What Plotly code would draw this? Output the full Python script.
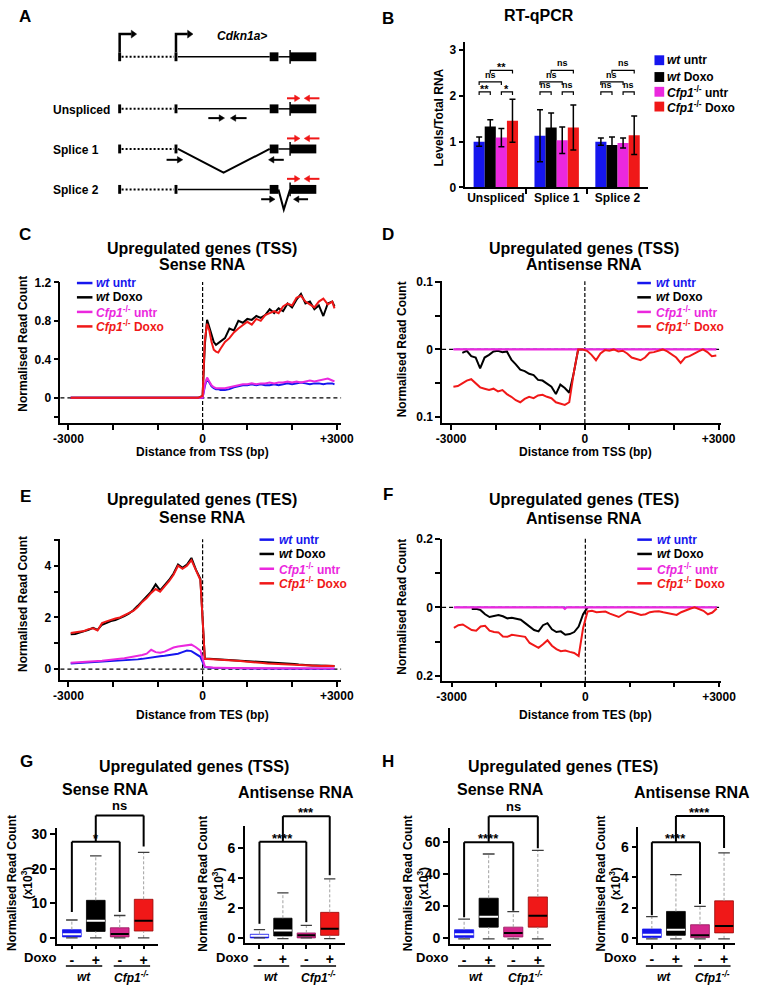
import plotly.graph_objects as go

W, H = 763, 989
FONT = "Liberation Sans, Arial, Helvetica, sans-serif"
BLUE = "rgb(22,22,238)"
MAG = "rgb(235,40,222)"
RED = "rgb(240,24,24)"
BLK = "rgb(0,0,0)"
BOXMAG = "rgb(212,40,140)"

# ================= DATA =================
# ---- Panel B : RT-qPCR ----
qpcr_groups = ["Unspliced", "Splice 1", "Splice 2"]
qpcr_wt_untr = [1.00, 1.13, 1.00]
qpcr_wt_untr_err = [0.10, 0.57, 0.08]
qpcr_wt_doxo = [1.33, 1.31, 0.93]
qpcr_wt_doxo_err = [0.15, 0.32, 0.17]
qpcr_cfp_untr = [1.09, 1.03, 0.97]
qpcr_cfp_untr_err = [0.20, 0.29, 0.11]
qpcr_cfp_doxo = [1.46, 1.31, 1.14]
qpcr_cfp_doxo_err = [0.47, 0.49, 0.42]
# significance: (wt untr vs wt Doxo, Cfp1 untr vs Cfp1 Doxo, wt untr vs Cfp1 untr, wt Doxo vs Cfp1 Doxo)
qpcr_sig = [["**", "*", "ns", "**"], ["ns", "ns", "ns", "ns"], ["ns", "ns", "ns", "ns"]]

# ---- Panel C : TSS sense ----
C_x = [-2950, -100, 0, 50, 100, 150, 200, 250, 300, 350, 400, 500, 600, 700, 800, 900, 1000,
       1100, 1200, 1300, 1400, 1500, 1600, 1700, 1800, 1900, 2000, 2100, 2200, 2300, 2400,
       2500, 2600, 2700, 2800, 2900, 2950]
C_wt_untr = [0, 0, 0.0, 0.12, 0.20, 0.16, 0.12, 0.10, 0.09, 0.09, 0.08, 0.08, 0.09, 0.11, 0.12,
             0.13, 0.13, 0.14, 0.13, 0.14, 0.13, 0.13, 0.14, 0.13, 0.14, 0.15, 0.14, 0.15, 0.16,
             0.15, 0.14, 0.15, 0.15, 0.14, 0.15, 0.15, 0.14]
C_wt_doxo = [0, 0, 0.02, 0.55, 0.81, 0.74, 0.65, 0.58, 0.55, 0.57, 0.59, 0.62, 0.72, 0.70, 0.80,
             0.78, 0.82, 0.81, 0.85, 0.83, 0.86, 0.92, 0.88, 0.93, 0.90, 0.98, 0.94, 1.02, 1.08,
             0.98, 1.00, 0.92, 0.96, 0.85, 0.98, 1.00, 0.95]
C_cfp_untr = [0, 0, 0.0, 0.14, 0.21, 0.17, 0.13, 0.11, 0.10, 0.10, 0.10, 0.10, 0.11, 0.12, 0.13,
              0.14, 0.14, 0.15, 0.14, 0.15, 0.15, 0.16, 0.15, 0.16, 0.16, 0.17, 0.16, 0.17, 0.16,
              0.17, 0.18, 0.17, 0.18, 0.19, 0.20, 0.18, 0.17]
C_cfp_doxo = [0, 0, 0.02, 0.60, 0.77, 0.70, 0.58, 0.50, 0.48, 0.47, 0.51, 0.58, 0.62, 0.68, 0.72,
              0.76, 0.79, 0.76, 0.82, 0.80, 0.86, 0.88, 0.90, 0.88, 0.95, 0.98, 0.96, 1.04, 1.06,
              1.00, 0.97, 0.94, 1.00, 1.03, 0.97, 1.00, 0.93]

# ---- common 100-bp grid for D, E, F ----
GRID = [-2950, -2850, -2750, -2650, -2550, -2450, -2350, -2250, -2150, -2050,
        -1950, -1850, -1750, -1650, -1550, -1450, -1350, -1250, -1150, -1050,
        -950, -850, -750, -650, -550, -450, -350, -250, -150, -50,
        50, 150, 250, 350, 450, 550, 650, 750, 850, 950,
        1050, 1150, 1250, 1350, 1450, 1550, 1650, 1750, 1850, 1950,
        2050, 2150, 2250, 2350, 2450, 2550, 2650, 2750, 2850, 2950]

# ---- Panel D : TSS antisense (plotted negative) ----
D_flat_x = [-2950, 2950]
D_wt_untr = [0.0, 0.0]
D_cfp_untr = [0.0, 0.0]
D_wt_doxo = [None, None, -0.005, -0.002, -0.010, -0.012, -0.028, -0.012, -0.008, -0.003,
             -0.002, -0.004, -0.003, -0.015, -0.022, -0.030, -0.032, -0.036, -0.038, -0.045,
             -0.046, -0.050, -0.055, -0.066, -0.052, -0.057, -0.064, -0.035, 0.0, 0.0]
D_cfp_doxo = [-0.055, -0.054, -0.050, -0.046, -0.044, -0.050, -0.056, -0.058, -0.060, -0.058,
              -0.062, -0.060, -0.066, -0.070, -0.075, -0.078, -0.073, -0.070, -0.072, -0.068,
              -0.067, -0.070, -0.072, -0.078, -0.080, -0.082, -0.078, -0.035, 0.0, 0.0,
              -0.002, -0.008, -0.016, -0.006, -0.001, -0.002, 0.0, -0.003, -0.002, -0.006,
              -0.012, -0.014, -0.016, -0.012, -0.005, -0.004, -0.002, 0.0, -0.003, -0.008,
              -0.012, -0.020, -0.012, -0.010, -0.006, -0.003, 0.0, -0.004, -0.010, -0.009]

# ---- Panel E : TES sense ----
E_wt_untr = [0.22, 0.23, 0.24, 0.24, 0.25, 0.26, 0.27, 0.28, 0.29, 0.30,
             0.31, 0.33, 0.34, 0.36, 0.37, 0.38, 0.40, 0.43, 0.46, 0.48,
             0.50, 0.52, 0.55, 0.58, 0.60, 0.66, 0.72, 0.70, 0.60, 0.48,
             0.08, 0.06, 0.05, 0.05, 0.04, 0.04, 0.04, 0.04, 0.03, 0.03,
             0.03, 0.03, 0.03, 0.03, 0.03, 0.02, 0.02, 0.02, 0.02, 0.02,
             0.02, 0.02, 0.02, 0.02, 0.02, 0.02, 0.02, 0.02, 0.02, 0.02]
E_wt_doxo = [1.35, 1.36, 1.42, 1.46, 1.52, 1.60, 1.52, 1.72, 1.80, 1.86,
             1.90, 1.96, 2.05, 2.15, 2.28, 2.45, 2.62, 2.80, 3.00, 3.28,
             3.05, 3.25, 3.45, 3.70, 4.05, 3.92, 4.05, 4.30, 3.85, 3.50,
             0.40, 0.40, 0.39, 0.38, 0.38, 0.37, 0.36, 0.35, 0.34, 0.32,
             0.31, 0.30, 0.29, 0.28, 0.27, 0.26, 0.25, 0.24, 0.22, 0.21,
             0.20, 0.18, 0.16, 0.15, 0.14, 0.14, 0.13, 0.13, 0.12, 0.12]
E_cfp_untr = [0.25, 0.26, 0.26, 0.27, 0.28, 0.30, 0.31, 0.33, 0.35, 0.36,
              0.38, 0.40, 0.42, 0.45, 0.48, 0.52, 0.55, 0.60, 0.75, 0.66,
              0.64, 0.68, 0.76, 0.84, 0.88, 0.90, 0.92, 0.95, 0.85, 0.72,
              0.10, 0.07, 0.06, 0.06, 0.05, 0.05, 0.05, 0.05, 0.04, 0.04,
              0.04, 0.04, 0.04, 0.04, 0.04, 0.03, 0.03, 0.03, 0.03, 0.03,
              0.03, 0.03, 0.03, 0.03, 0.03, 0.03, 0.03, 0.03, 0.03, 0.03]
E_cfp_doxo = [1.40, 1.42, 1.45, 1.48, 1.55, 1.58, 1.50, 1.78, 1.85, 1.92,
              1.96, 2.00, 2.08, 2.15, 2.25, 2.40, 2.60, 2.75, 2.95, 3.10,
              3.00, 3.20, 3.40, 3.65, 4.00, 3.88, 4.00, 4.22, 3.80, 3.45,
              0.40, 0.39, 0.39, 0.38, 0.38, 0.37, 0.36, 0.34, 0.32, 0.30,
              0.29, 0.27, 0.26, 0.24, 0.22, 0.21, 0.20, 0.19, 0.18, 0.17,
              0.16, 0.15, 0.15, 0.14, 0.13, 0.13, 0.12, 0.13, 0.12, 0.12]

# ---- Panel F : TES antisense (plotted negative) ----
F_flat_x = [-2950, -500, -460, -420, 2950]
F_wt_untr = [0.0, 0.0, 0.0, 0.0, 0.0]
F_cfp_untr = [0.0, 0.0, -0.004, 0.0, 0.0]
F_wt_doxo = [None, None, None, None, -0.005, -0.004, -0.008, -0.020, -0.028, -0.024,
             -0.022, -0.026, -0.032, -0.030, -0.034, -0.036, -0.046, -0.055, -0.066, -0.070,
             -0.052, -0.046, -0.064, -0.072, -0.070, -0.080, -0.078, -0.072, -0.056, -0.020,
             0.0]
F_cfp_doxo = [-0.060, -0.052, -0.050, -0.058, -0.066, -0.068, -0.056, -0.054, -0.068, -0.072,
              -0.073, -0.085, -0.086, -0.080, -0.082, -0.084, -0.086, -0.104, -0.112, -0.118,
              -0.108, -0.096, -0.112, -0.122, -0.128, -0.126, -0.130, -0.133, -0.142, -0.060,
              -0.012, -0.010, -0.014, -0.014, -0.012, -0.018, -0.022, -0.028, -0.020, -0.012,
              -0.014, -0.018, -0.022, -0.020, -0.014, -0.012, -0.011, -0.014, -0.016, -0.020,
              -0.022, -0.014, -0.008, -0.004, 0.000, -0.004, -0.010, -0.020, -0.015, -0.003]

# ---- Panels G/H : box summaries (x10^3) ; order wt -, wt +, Cfp1 -, Cfp1 + ----
box_doxo = ["-", "+", "-", "+"]
box_genotypes = ["wt", "Cfp1-/-"]
G_sense_low = [0.0, 0.0, 0.0, 0.0]
G_sense_q1 = [0.3, 1.9, 0.3, 2.0]
G_sense_med = [1.05, 5.0, 1.15, 5.0]
G_sense_q3 = [2.4, 10.9, 2.95, 11.2]
G_sense_high = [5.2, 23.8, 6.5, 24.8]
G_anti_low = [0.0, -0.05, 0.0, -0.05]
G_anti_q1 = [0.0, 0.13, 0.0, 0.17]
G_anti_med = [0.15, 0.50, 0.17, 0.61]
G_anti_q3 = [0.24, 1.31, 0.33, 1.70]
G_anti_high = [0.55, 3.0, 0.83, 3.93]
H_sense_low = [-0.6, -0.6, -0.6, -0.6]
H_sense_q1 = [0.2, 6.75, 0.6, 6.75]
H_sense_med = [2.25, 13.3, 3.1, 13.9]
H_sense_q3 = [5.1, 24.8, 6.75, 25.6]
H_sense_high = [11.7, 52.4, 16.4, 54.7]
H_anti_low = [-0.06, -0.06, -0.06, -0.06]
H_anti_q1 = [0.02, 0.17, 0.02, 0.33]
H_anti_med = [0.20, 0.54, 0.17, 0.78]
H_anti_q3 = [0.585, 1.75, 0.87, 2.45]
H_anti_high = [1.41, 4.18, 2.08, 5.63]
G_sense_sig = ["*", "ns"]
G_anti_sig = ["****", "***"]
H_sense_sig = ["****", "ns"]
H_anti_sig = ["****", "****"]

# ================= HELPERS =================
def PX(x): return x / W
def PY(y): return 1 - y / H

shapes, annots = [], []

def ann(s, x, y, xref="paper", yref="paper", size=12, color="black", xa="center", ya="middle",
        angle=0, yshift=0):
    annots.append(dict(text=s, x=x, y=y, xref=xref, yref=yref, showarrow=False, xanchor=xa,
                       yanchor=ya, textangle=angle, borderpad=0, yshift=yshift,
                       font=dict(family=FONT, size=size, color=color, weight="bold")))

def pann(s, x, y, **kw):
    ann(s, PX(x), PY(y), **kw)

def pline(x0, y0, x1, y1, color="black", width=1.5, dash="solid"):
    shapes.append(dict(type="line", xref="paper", yref="paper", x0=PX(x0), y0=PY(y0),
                       x1=PX(x1), y1=PY(y1), line=dict(color=color, width=width, dash=dash)))

def ppath(pts, color="black", width=1.5, fill=None, close=False):
    d = "M " + " L ".join(f"{PX(x):.5f},{PY(y):.5f}" for x, y in pts) + (" Z" if close else "")
    shapes.append(dict(type="path", xref="paper", yref="paper", path=d,
                       line=dict(color=color, width=width),
                       fillcolor=fill if fill else "rgba(0,0,0,0)"))

def prect(x0, y0, x1, y1, color="black"):
    shapes.append(dict(type="rect", xref="paper", yref="paper", x0=PX(x0), y0=PY(y1),
                       x1=PX(x1), y1=PY(y0), fillcolor=color, line=dict(width=0)))

def harrow(xt, xh, y, color="black"):
    d = 1 if xh > xt else -1
    pline(xt, y, xh - d * 4, y, color=color, width=2)
    ppath([(xh - d * 5.5, y - 3.3), (xh, y), (xh - d * 5.5, y + 3.3)], color=color, width=0.5,
          fill=color, close=True)

def ref(n, l):
    return l if n == 1 else f"{l}{n}"

# panel geometry (pixel boxes) and ranges
PAN = {
    1: dict(x=(472, 660), y=(36, 183), xr=[-0.5, 2.5], yr=[0, 3.17]),
    2: dict(x=(55, 344), y=(279, 422), xr=[-3180, 3097], yr=[-0.262, 1.203]),
    3: dict(x=(448, 735), y=(278.3, 422), xr=[-3204, 3051], yr=[-0.1087, 0.1005]),
    4: dict(x=(55, 344), y=(540, 683), xr=[-3180, 3097], yr=[-0.43, 5.02]),
    5: dict(x=(448, 735), y=(539.5, 683.3), xr=[-3215, 3040], yr=[-0.214, 0.2003]),
    6: dict(x=(51, 155), y=(832.7, 950), xr=[-0.64, 3.58], yr=[-1.63, 31.9]),
    7: dict(x=(245, 348), y=(830.7, 949.3), xr=[-0.62, 3.65], yr=[-0.33, 7.45]),
    8: dict(x=(456, 560), y=(832.7, 950), xr=[-0.58, 3.53], yr=[-3.5, 68.7]),
    9: dict(x=(650, 750), y=(831.7, 949.3), xr=[-0.565, 3.47], yr=[-0.33, 7.34]),
}

def vpaper(n, v):
    p = PAN[n]
    b, t = PY(p["y"][1]), PY(p["y"][0])
    r0, r1 = p["yr"]
    return b + (v - r0) / (r1 - r0) * (t - b)

layout = dict(width=W, height=H, margin=dict(l=0, r=0, t=0, b=0, pad=0),
              paper_bgcolor="white", plot_bgcolor="white", showlegend=False,
              barmode="group", bargap=0.27, bargroupgap=0.0,
              font=dict(family=FONT, color="black"))

AX = dict(showline=True, linecolor="black", linewidth=1.5, ticks="outside", ticklen=5,
          tickwidth=1.5, tickcolor="black", showgrid=False, zeroline=False, fixedrange=True,
          tickfont=dict(family=FONT, size=12, color="black", weight="bold"))

def minor(vals, ln=5):
    return dict(tickvals=vals, ticks="outside", ticklen=ln, tickwidth=1.5, tickcolor="black",
                showgrid=False)

for n, p in PAN.items():
    xa = dict(AX, domain=[PX(p["x"][0]), PX(p["x"][1])], range=p["xr"], anchor=ref(n, "y"))
    ya = dict(AX, domain=[PY(p["y"][1]), PY(p["y"][0])], range=p["yr"], anchor=ref(n, "x"))
    layout["xaxis" if n == 1 else f"xaxis{n}"] = xa
    layout["yaxis" if n == 1 else f"yaxis{n}"] = ya

# ---- tick setups ----
layout["xaxis"].update(tickvals=list(range(len(qpcr_groups))), ticktext=qpcr_groups, ticks="",
                       ticklabelstandoff=-2, minor=minor([0.5, 1.5]))
layout["yaxis"].update(tickvals=[0, 1, 2, 3])
for n in (2, 3, 4, 5):
    layout[f"xaxis{n}"].update(tickvals=[-3000, 0, 3000], ticktext=["-3000", "0", "+3000"],
                               ticklabelstandoff=-1,
                               minor=minor([-2000, -1000, 1000, 2000]))
layout["yaxis2"].update(tickvals=[0, 0.4, 0.8, 1.2], ticktext=["0", "0.4", "0.8", "1.2"],
                        minor=minor([-0.2]))
layout["yaxis3"].update(tickvals=[-0.1, 0, 0.1], ticktext=["0.1", "0", "0.1"],
                        minor=minor([-0.05, 0.05]))
layout["yaxis4"].update(tickvals=[0, 2, 4], ticktext=["0", "2", "4"], minor=minor([1, 3, 5]))
layout["yaxis5"].update(tickvals=[-0.2, 0, 0.2], ticktext=["0.2", "0", "0.2"],
                        minor=minor([-0.1, 0.1]))
for n, tv in ((6, [0, 10, 20, 30]), (7, [0, 2, 4, 6]), (8, [0, 20, 40, 60]), (9, [0, 2, 4, 6])):
    layout[f"yaxis{n}"].update(tickvals=tv, tickfont=dict(family=FONT, size=14, color="black", weight="bold"))
    layout[f"xaxis{n}"].update(tickvals=list(range(len(box_doxo))), ticktext=box_doxo, ticklen=4,
                               ticklabelstandoff=-1,
                               tickfont=dict(family=FONT, size=14, color="black", weight="bold"))

fig = go.Figure()

# ================= PANEL A (schematic) =================
def gene_row(c, splice=None):
    prect(114.5, c - 4.5, 117.5, c + 4.5)
    pline(118, c, 172, c, width=2, dash="2px,2px")
    prect(172.5, c - 4.5, 175.5, c + 4.5)
    if splice == 1:
        ppath([(176, c), (223, c + 24), (270.5, c)], width=2)
    else:
        pline(176, c, 270.5, c, width=1.5)
    prect(270.5, c - 4.5, 279.5, c + 4.5)
    if splice == 2:
        ppath([(279.5, c), (285, c + 20.5), (291.5, c)], width=2)
    else:
        pline(279.5, c, 291.5, c, width=1.5)
    prect(291.5, c - 4.5, 318.5, c + 4.5)
    pline(291.5, c - 7, 291.5, c + 7, width=1.5)

gene_row(50.5)
for x0 in (116, 174):
    ppath([(x0, 46), (x0, 27.5), (x0 + 12, 27.5)], width=2.5)
    ppath([(x0 + 12, 23.5), (x0 + 17.5, 27.5), (x0 + 12, 31.5)], width=0.5, fill="black", close=True)
pann("<i>Cdkn1a></i>", 215, 29, size=12, xa="left")

rows = [("Unspliced", 103.3, None), ("Splice 1", 144, 1), ("Splice 2", 185, 2)]
for lab, c, sp in rows:
    gene_row(c, sp)
    pann(lab, 46.5, c + 1, size=12, xa="left")
    harrow(288.3, 301.7, c - 10.7, RED)
    harrow(321.7, 306, c - 10.7, RED)
harrow(207.3, 224, 112.7)
harrow(246.7, 230, 112.7)
harrow(164.3, 181, 155)
harrow(285, 269.3, 155)
harrow(261.7, 276, 195)
harrow(310, 295, 195)

# ================= PANEL B =================
bx = list(range(len(qpcr_groups)))
for vals, errs, col in ((qpcr_wt_untr, qpcr_wt_untr_err, BLUE), (qpcr_wt_doxo, qpcr_wt_doxo_err, BLK),
                        (qpcr_cfp_untr, qpcr_cfp_untr_err, MAG), (qpcr_cfp_doxo, qpcr_cfp_doxo_err, RED)):
    fig.add_trace(go.Bar(x=bx, y=vals, marker=dict(color=col, line=dict(width=0)),
                         error_y=dict(type="data", array=errs, color="black", thickness=1.5, width=3),
                         xaxis="x", yaxis="y", hoverinfo="skip"))
off = [-0.274, -0.091, 0.091, 0.274]
pairs = [((0, 1), 2.09), ((2, 3), 2.09), ((0, 2), 2.31), ((1, 3), 2.56)]
for g in bx:
    for k, ((a, b), lev) in enumerate(pairs):
        xa_, xb_ = g + off[a], g + off[b]
        shapes.append(dict(type="path", xref="x", yref="y",
                           path=f"M {xa_},{lev - 0.07} L {xa_},{lev} L {xb_},{lev} L {xb_},{lev - 0.07}",
                           line=dict(color="black", width=1.2)))
        lab = qpcr_sig[g][k]
        star = "*" in lab
        ann(lab, (xa_ + xb_) / 2, lev, xref="x", yref="y", size=11 if star else 9, ya="bottom",
            yshift=-4 if star else 1)
pann("RT-qPCR", 548, 9, size=16)
pann("Levels/Total RNA", 445, 112, size=12, angle=-90)
for (lab, col), yy in zip((("<i>wt</i> untr", BLUE), ("<i>wt</i> Doxo", BLK),
                           ("<i>Cfp1</i><sup>-/-</sup> untr", MAG), ("<i>Cfp1</i><sup>-/-</sup> Doxo", RED)),
                          (54, 71, 86, 101)):
    prect(666.7, yy - 5, 676.7, yy + 5, col)
    pann(lab, 678.5, yy, size=12, xa="left")

# ================= LINE PANELS C-F =================
def lt(n, x, y, col, w=2):
    fig.add_trace(go.Scatter(x=x, y=y, mode="lines", line=dict(color=col, width=w),
                             xaxis=ref(n, "x"), yaxis=ref(n, "y"), hoverinfo="skip"))

lt(2, C_x, C_wt_untr, BLUE); lt(2, C_x, C_wt_doxo, BLK); lt(2, C_x, C_cfp_untr, MAG); lt(2, C_x, C_cfp_doxo, RED)
lt(3, D_flat_x, D_wt_untr, BLUE, 1.2); lt(3, GRID[:len(D_wt_doxo)], D_wt_doxo, BLK)
lt(3, D_flat_x, D_cfp_untr, MAG, 2.2); lt(3, GRID, D_cfp_doxo, RED)
lt(4, GRID, E_wt_untr, BLUE); lt(4, GRID, E_wt_doxo, BLK); lt(4, GRID, E_cfp_untr, MAG); lt(4, GRID, E_cfp_doxo, RED)
lt(5, F_flat_x, F_wt_untr, BLUE, 1.2); lt(5, GRID[:len(F_wt_doxo)], F_wt_doxo, BLK)
lt(5, F_flat_x, F_cfp_untr, MAG, 2.2); lt(5, GRID, F_cfp_doxo, RED)

for n in (2, 3, 4, 5):
    shapes.append(dict(type="line", xref=f"x{n} domain", x0=0, x1=1, yref=f"y{n}", y0=0, y1=0,
                       line=dict(color="black", width=1.2, dash="4px,3px"), layer="below"))
    shapes.append(dict(type="line", xref=f"x{n}", x0=0, x1=0, yref=f"y{n} domain", y0=0, y1=1,
                       line=dict(color="black", width=1.2, dash="4px,2px"), layer="below"))

LEG = (("<i>wt</i> untr", BLUE), ("<i>wt</i> Doxo", BLK),
       ("<i>Cfp1</i><sup>-/-</sup> untr", MAG), ("<i>Cfp1</i><sup>-/-</sup> Doxo", RED))

def line_legend(x0, x1, xt, ys):
    for (lab, col), yy in zip(LEG, ys):
        pline(x0, yy, x1, yy, color=col, width=2.5)
        pann(lab, xt, yy, size=12, color=col, xa="left")

line_legend(72, 88, 91, (280, 294.5, 309.3, 324))
line_legend(649, 663, 667, (280, 294.5, 309.3, 324))
line_legend(260, 275, 279, (540.3, 554.8, 569.8, 584.6))
line_legend(649, 664, 668, (540.3, 554.8, 569.8, 584.6))

for cx, t1, t2, y1, y2 in ((201, "Upregulated genes (TSS)", "Sense RNA", 245, 261),
                           (594, "Upregulated genes (TSS)", "Antisense RNA", 245, 261),
                           (201, "Upregulated genes (TES)", "Sense RNA", 500, 518),
                           (594, "Upregulated genes (TES)", "Antisense RNA", 500, 519)):
    pann(t1, cx, y1, size=16)
    pann(t2, cx, y2, size=16)
pann("Distance from TSS (bp)", 201, 451.5, size=12)
pann("Distance from TSS (bp)", 596, 451.5, size=12)
pann("Distance from TES (bp)", 201, 718, size=12)
pann("Distance from TES (bp)", 596, 718, size=12)
pann("Normalised Read Count", 17, 342, size=12, angle=-90)
pann("Normalised Read Count", 407, 347, size=12, angle=-90)
pann("Normalised Read Count", 17, 606, size=12, angle=-90)
pann("Normalised Read Count", 407, 608, size=12, angle=-90)

# ================= BOX PANELS G/H =================
BOXCOL = [BLUE, BLK, BOXMAG, RED]
MEDCOL = ["white", "white", "black", "black"]
EDGECOL = [BLUE, BLK, "rgb(150,20,90)", "rgb(150,10,10)"]

def boxes(n, low, q1, med, q3, high):
    xs = list(range(len(box_doxo)))
    xr_, yr_ = ref(n, "x"), ref(n, "y")
    fig.add_trace(go.Bar(x=xs, y=[b - a for a, b in zip(q1, q3)], base=q1, width=0.78,
                         marker=dict(color=BOXCOL, line=dict(color=EDGECOL, width=0.8)),
                         xaxis=xr_, yaxis=yr_, hoverinfo="skip"))
    for i in xs:
        fig.add_trace(go.Scatter(x=[i, i, None, i, i], y=[q3[i], high[i], None, low[i], q1[i]],
                                 mode="lines", line=dict(color="rgb(160,160,160)", width=1, dash="3px,2px"),
                                 xaxis=xr_, yaxis=yr_, hoverinfo="skip"))
        fig.add_trace(go.Scatter(x=[i - 0.24, i + 0.24, None, i - 0.24, i + 0.24],
                                 y=[high[i], high[i], None, low[i], low[i]], mode="lines",
                                 line=dict(color="rgb(60,60,60)", width=1.3),
                                 xaxis=xr_, yaxis=yr_, hoverinfo="skip"))
        fig.add_trace(go.Scatter(x=[i - 0.38, i + 0.38], y=[med[i], med[i]], mode="lines",
                                 line=dict(color=MEDCOL[i], width=2), xaxis=xr_, yaxis=yr_,
                                 hoverinfo="skip"))

boxes(6, G_sense_low, G_sense_q1, G_sense_med, G_sense_q3, G_sense_high)
boxes(7, G_anti_low, G_anti_q1, G_anti_med, G_anti_q3, G_anti_high)
boxes(8, H_sense_low, H_sense_q1, H_sense_med, H_sense_q3, H_sense_high)
boxes(9, H_anti_low, H_anti_q1, H_anti_med, H_anti_q3, H_anti_high)

def bbracket(n, a, b, lev, ea, eb, label):
    xr_ = f"x{n}"
    for (x0, y0, x1, y1) in ((a, ea, a, lev), (a, lev, b, lev), (b, lev, b, eb)):
        shapes.append(dict(type="line", xref=xr_, yref="paper", x0=x0, x1=x1,
                           y0=vpaper(n, y0), y1=vpaper(n, y1), line=dict(color="black", width=2)))
    star = "*" in label
    ann(label, (a + b) / 2, vpaper(n, lev), xref=xr_, yref="paper", size=13, ya="bottom",
        yshift=-5 if star else 1)

bbracket(6, 0, 2, 27.9, 7.5, 7.5, G_sense_sig[0])
bbracket(6, 1, 3, 35.5, 27.9, 26.5, G_sense_sig[1])
bbracket(7, 0, 2, 6.4, 0.94, 1.05, G_anti_sig[0])
bbracket(7, 1, 3, 8.1, 6.4, 4.17, G_anti_sig[1])
bbracket(8, 0, 2, 59.7, 12.9, 17.0, H_sense_sig[0])
bbracket(8, 1, 3, 76.0, 59.7, 56.0, H_sense_sig[1])
bbracket(9, 0, 2, 6.33, 1.5, 2.24, H_anti_sig[0])
bbracket(9, 1, 3, 8.06, 6.33, 5.94, H_anti_sig[1])

for n, dx, ylx in ((6, 34, 14), (7, 232, 210.5), (8, 438, 422), (9, 632, 620)):
    pann("Doxo", dx, 964, size=13)
    pann("Normalised Read Count<br>(x10<sup>3</sup>)", ylx, 889, size=12, angle=-90)
    for k, (a, b) in enumerate(((0, 1), (2, 3))):
        shapes.append(dict(type="line", xref=f"x{n}", yref="paper", x0=a - 0.25, x1=b + 0.27,
                           y0=PY(972.7), y1=PY(972.7), line=dict(color="black", width=1.5)))
    ann("<i>wt</i>", 0.5, PY(984), xref=f"x{n}", size=12)
    ann("<i>Cfp1<sup>-/-</sup></i>", 2.5, PY(984), xref=f"x{n}", size=12)

pann("Upregulated genes (TSS)", 193, 770, size=16)
pann("Sense RNA", 101, 794, size=16)
pann("Antisense RNA", 298, 797, size=16)
pann("Upregulated genes (TES)", 573, 770, size=16)
pann("Sense RNA", 508, 794, size=16)
pann("Antisense RNA", 705, 797, size=16)

# panel letters
for L, x, y in (("A", 19, 10), ("B", 392, 12), ("C", 19, 231), ("D", 392, 231),
                 ("E", 19, 497), ("F", 392, 495), ("G", 20, 765), ("H", 392, 765)):
    pann(L, x, y, size=17)

layout["shapes"] = shapes
layout["annotations"] = annots
fig.update_layout(**layout)
fig.write_html("out.html", config={"displayModeBar": False},
               post_script="document.body.style.margin='0px';")
